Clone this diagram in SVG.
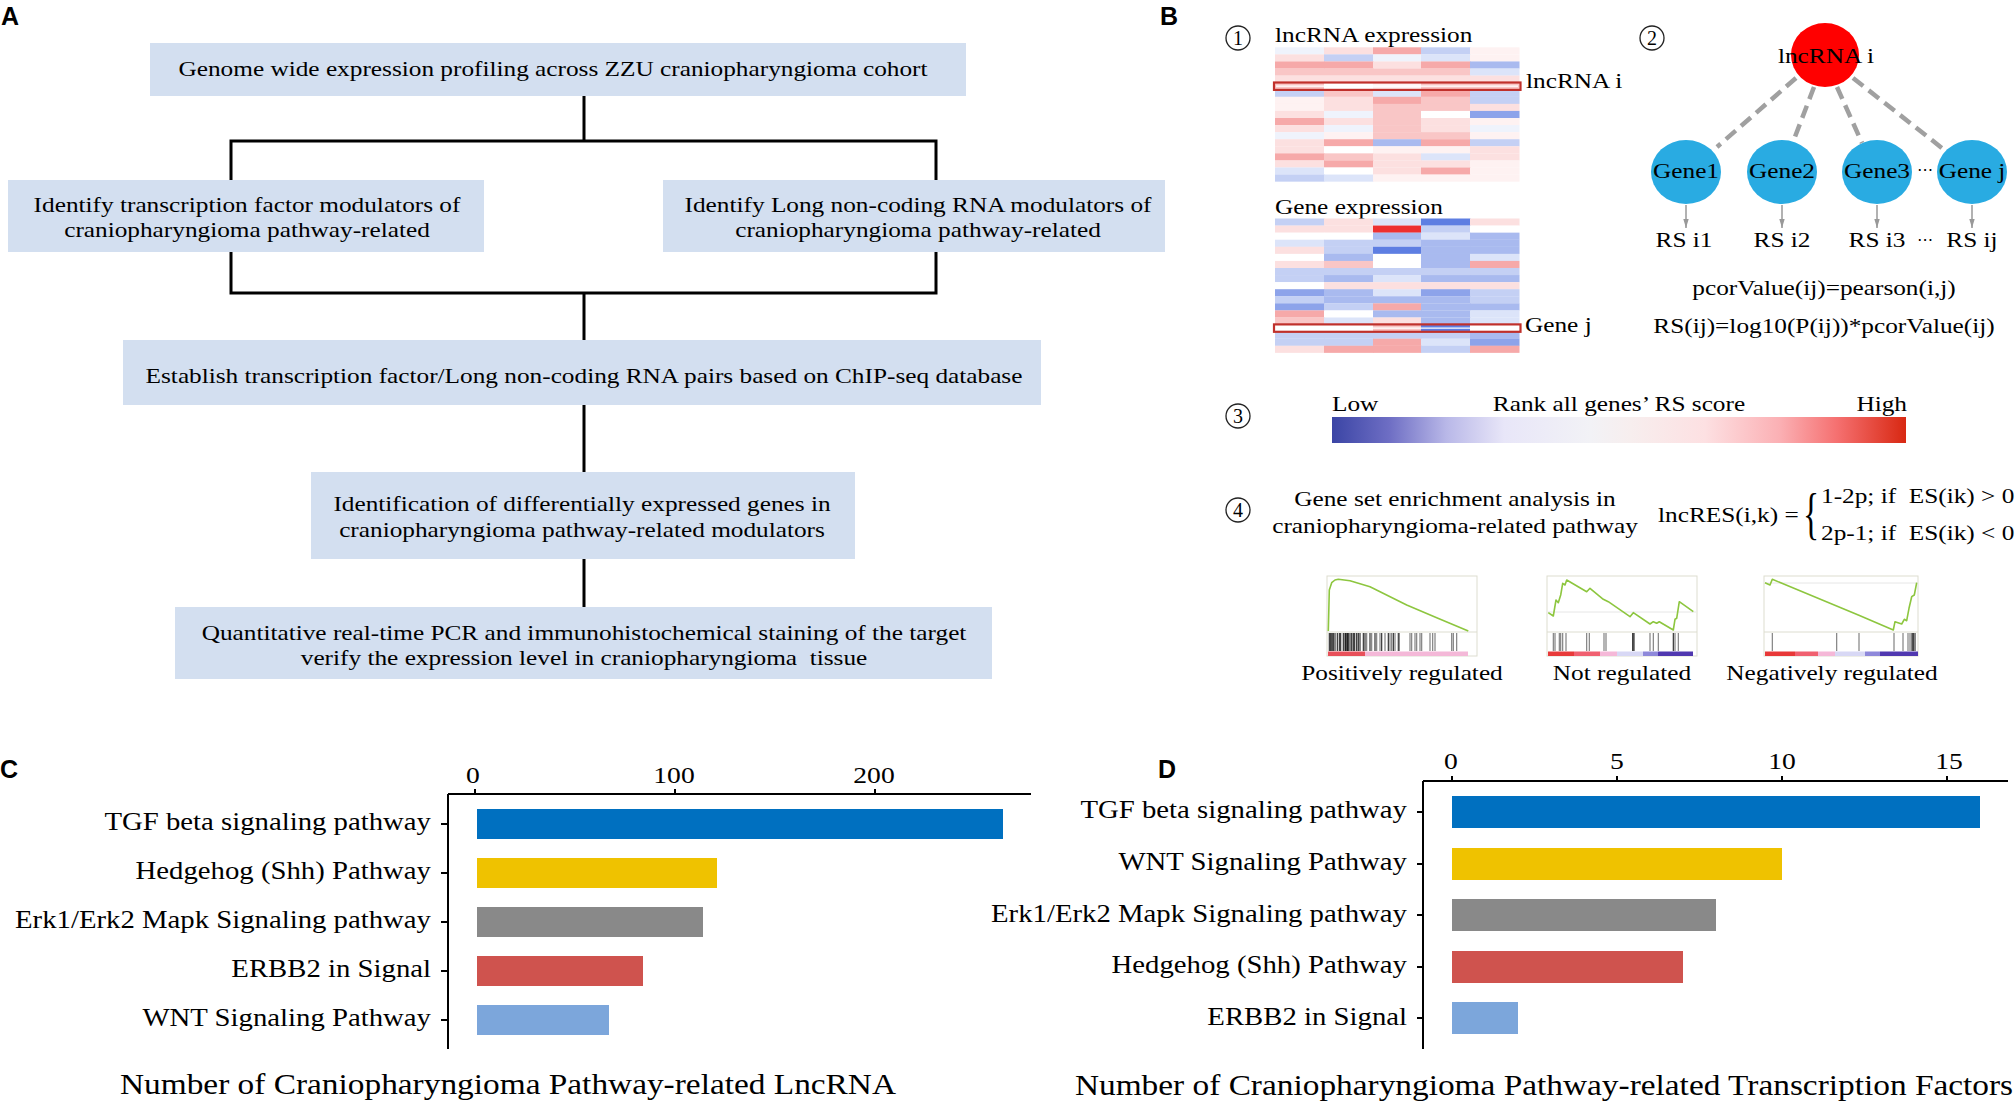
<svg xmlns="http://www.w3.org/2000/svg" width="2016" height="1104" viewBox="0 0 2016 1104">
<defs>
<style>
.t{font-family:"Liberation Serif","Times New Roman",serif;fill:#000}
.f22{font-size:22px}
.f24{font-size:24px}
.f25{font-size:25px}
.f29{font-size:29px}
.m{text-anchor:middle}
.e{text-anchor:end}
.pl{font-family:"Liberation Sans",Arial,sans-serif;font-weight:bold;font-size:25px;fill:#000}
.box{fill:#D3DFF0}
.conn{stroke:#000;stroke-width:3;fill:none;stroke-linecap:square}
.num{fill:none;stroke:#222;stroke-width:1.3}
.dash{stroke:#A0A0A0;stroke-width:4.5;stroke-dasharray:13 7;fill:none}
.rsarr{stroke:#999;stroke-width:1.5;fill:none;marker-end:url(#arr)}
.axis{stroke:#000;stroke-width:2;fill:none}
.ww{fill:#FFFFFF}.w{fill:#FEF2F2}.bw{fill:#EFF3FC}.p1{fill:#FCE0E0}.p2{fill:#F9C6C6}.p3{fill:#F6A9A9}.b1{fill:#DCE4F9}.b2{fill:#C4D0F4}.b3{fill:#A9BAEF}.b4{fill:#8DA3EA}.b5{fill:#5E7EE2}.r{fill:#EE3030}
.hl{fill:none;stroke:#C0302B;stroke-width:2.2}
.gframe{fill:#fff;stroke:#DDDDD0;stroke-width:1}
.curve{fill:none;stroke:#8DC63F;stroke-width:1.6;stroke-linejoin:round}
.bc{stroke:#222;stroke-width:1.1}
.bcg{stroke:#777;stroke-width:1.1}
.zero{stroke:#E6E6E6;stroke-width:1}
</style>
<marker id="arr" markerUnits="userSpaceOnUse" markerWidth="10" markerHeight="8" refX="9" refY="4" orient="auto">
<path d="M0,1.3 L9,4 L0,6.7z" fill="#999"/>
</marker>
<linearGradient id="rs" x1="0" y1="0" x2="1" y2="0">
<stop offset="0" stop-color="#3B45A5"/>
<stop offset="0.1" stop-color="#6E6EC4"/>
<stop offset="0.2" stop-color="#B9B8E8"/>
<stop offset="0.3" stop-color="#E8E6F8"/>
<stop offset="0.45" stop-color="#F2F2F6"/>
<stop offset="0.52" stop-color="#F7EEEE"/>
<stop offset="0.65" stop-color="#FDE0E2"/>
<stop offset="0.78" stop-color="#FBB0B4"/>
<stop offset="0.88" stop-color="#F57070"/>
<stop offset="1" stop-color="#D82812"/>
</linearGradient>
</defs>
<rect width="2016" height="1104" fill="#fff"/>

<!-- Panel labels -->
<text class="pl" x="1" y="25">A</text>
<text class="pl" x="1160" y="25">B</text>
<text class="pl" x="0" y="778">C</text>
<text class="pl" x="1158" y="778">D</text>

<!-- ===== Panel A ===== -->
<g id="a-connectors">
<path class="conn" d="M584 96 V141 M231 141 H936 M231 141 V180 M936 141 V180 M231 252 V293 M936 252 V293 M231 293 H936 M584 293 V340 M584 405 V472 M584 559 V607"/>
</g>
<g id="a-step1">
<rect class="box" x="150" y="43" width="816" height="53"/>
<text class="t f22 m" transform="translate(553 0) scale(1.15 1)" y="76">Genome wide expression profiling across ZZU craniopharyngioma cohort</text>
</g>
<g id="a-step2-tf">
<rect class="box" x="8" y="180" width="476" height="72"/>
<text class="t f22 m" transform="translate(247 0) scale(1.15 1)"><tspan x="0" y="212">Identify transcription factor modulators of</tspan><tspan x="0" y="237">craniopharyngioma pathway-related</tspan></text>
</g>
<g id="a-step2-lnc">
<rect class="box" x="663" y="180" width="502" height="72"/>
<text class="t f22 m" transform="translate(918 0) scale(1.15 1)"><tspan x="0" y="212">Identify Long non-coding RNA modulators of</tspan><tspan x="0" y="237">craniopharyngioma pathway-related</tspan></text>
</g>
<g id="a-step3">
<rect class="box" x="123" y="340" width="918" height="65"/>
<text class="t f22 m" transform="translate(584 0) scale(1.15 1)" y="383">Establish transcription factor/Long non-coding RNA pairs based on ChIP-seq database</text>
</g>
<g id="a-step4">
<rect class="box" x="311" y="472" width="544" height="87"/>
<text class="t f22 m" transform="translate(582 0) scale(1.15 1)"><tspan x="0" y="511">Identification of differentially expressed genes in</tspan><tspan x="0" y="537">craniopharyngioma pathway-related modulators</tspan></text>
</g>
<g id="a-step5">
<rect class="box" x="175" y="607" width="817" height="72"/>
<text class="t f22 m" transform="translate(584 0) scale(1.15 1)" xml:space="preserve"><tspan x="0" y="640">Quantitative real-time PCR and immunohistochemical staining of the target</tspan><tspan x="0" y="665">verify the expression level in craniopharyngioma  tissue</tspan></text>
</g>

<!-- ===== Panel B ===== -->
<!-- step numbers -->
<circle class="num" cx="1238" cy="38" r="12"/>
<text class="t m" font-size="20" x="1238" y="45">1</text>
<circle class="num" cx="1652" cy="38" r="12"/>
<text class="t m" font-size="20" x="1652" y="45">2</text>
<circle class="num" cx="1238" cy="416" r="12"/>
<text class="t m" font-size="20" x="1238" y="423">3</text>
<circle class="num" cx="1238" cy="510" r="12"/>
<text class="t m" font-size="20" x="1238" y="517">4</text>

<text class="t f22" transform="translate(1275 0) scale(1.15 1)" y="42">lncRNA expression</text>
<text class="t f22" transform="translate(1526 0) scale(1.15 1)" y="88">lncRNA i</text>
<text class="t f22" transform="translate(1275 0) scale(1.15 1)" y="214">Gene expression</text>
<text class="t f22" transform="translate(1525 0) scale(1.15 1)" y="332">Gene j</text>

<!-- heatmap 1 -->
<g transform="translate(1275 47.3)">
<rect x="0" y="0" width="49.5" height="7.2" class="bw"/><rect x="49" y="0" width="49.5" height="7.2" class="p1"/><rect x="98" y="0" width="48.5" height="7.2" class="p3"/><rect x="146" y="0" width="49.5" height="7.2" class="b2"/><rect x="195" y="0" width="49.5" height="7.2" class="w"/>
<rect x="0" y="7.07" width="49.5" height="7.2" class="p1"/><rect x="49" y="7.07" width="49.5" height="7.2" class="b2"/><rect x="98" y="7.07" width="48.5" height="7.2" class="bw"/><rect x="146" y="7.07" width="49.5" height="7.2" class="b1"/><rect x="195" y="7.07" width="49.5" height="7.2" class="w"/>
<rect x="0" y="14.14" width="49.5" height="7.2" class="p3"/><rect x="49" y="14.14" width="49.5" height="7.2" class="p3"/><rect x="98" y="14.14" width="48.5" height="7.2" class="p1"/><rect x="146" y="14.14" width="49.5" height="7.2" class="p3"/><rect x="195" y="14.14" width="49.5" height="7.2" class="b3"/>
<rect x="0" y="21.21" width="49.5" height="7.2" class="p2"/><rect x="49" y="21.21" width="49.5" height="7.2" class="p2"/><rect x="98" y="21.21" width="48.5" height="7.2" class="p2"/><rect x="146" y="21.21" width="49.5" height="7.2" class="p2"/><rect x="195" y="21.21" width="49.5" height="7.2" class="b1"/>
<rect x="0" y="28.28" width="49.5" height="7.2" class="p1"/><rect x="49" y="28.28" width="49.5" height="7.2" class="p1"/><rect x="98" y="28.28" width="48.5" height="7.2" class="p1"/><rect x="146" y="28.28" width="49.5" height="7.2" class="p1"/><rect x="195" y="28.28" width="49.5" height="7.2" class="p1"/>
<rect x="0" y="35.35" width="49.5" height="7.2" class="p2"/><rect x="49" y="35.35" width="49.5" height="7.2" class="ww"/><rect x="98" y="35.35" width="48.5" height="7.2" class="w"/><rect x="146" y="35.35" width="49.5" height="7.2" class="p2"/><rect x="195" y="35.35" width="49.5" height="7.2" class="p2"/>
<rect x="0" y="42.42" width="49.5" height="7.2" class="b2"/><rect x="49" y="42.42" width="49.5" height="7.2" class="p2"/><rect x="98" y="42.42" width="48.5" height="7.2" class="b1"/><rect x="146" y="42.42" width="49.5" height="7.2" class="p3"/><rect x="195" y="42.42" width="49.5" height="7.2" class="b2"/>
<rect x="0" y="49.49" width="49.5" height="7.2" class="w"/><rect x="49" y="49.49" width="49.5" height="7.2" class="p1"/><rect x="98" y="49.49" width="48.5" height="7.2" class="p3"/><rect x="146" y="49.49" width="49.5" height="7.2" class="p2"/><rect x="195" y="49.49" width="49.5" height="7.2" class="b2"/>
<rect x="0" y="56.56" width="49.5" height="7.2" class="w"/><rect x="49" y="56.56" width="49.5" height="7.2" class="p1"/><rect x="98" y="56.56" width="48.5" height="7.2" class="p2"/><rect x="146" y="56.56" width="49.5" height="7.2" class="p2"/><rect x="195" y="56.56" width="49.5" height="7.2" class="p1"/>
<rect x="0" y="63.63" width="49.5" height="7.2" class="p1"/><rect x="49" y="63.63" width="49.5" height="7.2" class="bw"/><rect x="98" y="63.63" width="48.5" height="7.2" class="p2"/><rect x="146" y="63.63" width="49.5" height="7.2" class="ww"/><rect x="195" y="63.63" width="49.5" height="7.2" class="b4"/>
<rect x="0" y="70.7" width="49.5" height="7.2" class="p3"/><rect x="49" y="70.7" width="49.5" height="7.2" class="p1"/><rect x="98" y="70.7" width="48.5" height="7.2" class="p2"/><rect x="146" y="70.7" width="49.5" height="7.2" class="p1"/><rect x="195" y="70.7" width="49.5" height="7.2" class="w"/>
<rect x="0" y="77.77" width="49.5" height="7.2" class="p1"/><rect x="49" y="77.77" width="49.5" height="7.2" class="bw"/><rect x="98" y="77.77" width="48.5" height="7.2" class="p2"/><rect x="146" y="77.77" width="49.5" height="7.2" class="p1"/><rect x="195" y="77.77" width="49.5" height="7.2" class="bw"/>
<rect x="0" y="84.84" width="49.5" height="7.2" class="bw"/><rect x="49" y="84.84" width="49.5" height="7.2" class="w"/><rect x="98" y="84.84" width="48.5" height="7.2" class="p2"/><rect x="146" y="84.84" width="49.5" height="7.2" class="p2"/><rect x="195" y="84.84" width="49.5" height="7.2" class="w"/>
<rect x="0" y="91.91" width="49.5" height="7.2" class="p1"/><rect x="49" y="91.91" width="49.5" height="7.2" class="p3"/><rect x="98" y="91.91" width="48.5" height="7.2" class="b3"/><rect x="146" y="91.91" width="49.5" height="7.2" class="p3"/><rect x="195" y="91.91" width="49.5" height="7.2" class="b2"/>
<rect x="0" y="98.98" width="49.5" height="7.2" class="p1"/><rect x="49" y="98.98" width="49.5" height="7.2" class="ww"/><rect x="98" y="98.98" width="48.5" height="7.2" class="w"/><rect x="146" y="98.98" width="49.5" height="7.2" class="w"/><rect x="195" y="98.98" width="49.5" height="7.2" class="p1"/>
<rect x="0" y="106.05" width="49.5" height="7.2" class="p3"/><rect x="49" y="106.05" width="49.5" height="7.2" class="p2"/><rect x="98" y="106.05" width="48.5" height="7.2" class="p1"/><rect x="146" y="106.05" width="49.5" height="7.2" class="b1"/><rect x="195" y="106.05" width="49.5" height="7.2" class="p1"/>
<rect x="0" y="113.12" width="49.5" height="7.2" class="p1"/><rect x="49" y="113.12" width="49.5" height="7.2" class="p3"/><rect x="98" y="113.12" width="48.5" height="7.2" class="p1"/><rect x="146" y="113.12" width="49.5" height="7.2" class="p1"/><rect x="195" y="113.12" width="49.5" height="7.2" class="w"/>
<rect x="0" y="120.19" width="49.5" height="7.2" class="b1"/><rect x="49" y="120.19" width="49.5" height="7.2" class="ww"/><rect x="98" y="120.19" width="48.5" height="7.2" class="p1"/><rect x="146" y="120.19" width="49.5" height="7.2" class="p3"/><rect x="195" y="120.19" width="49.5" height="7.2" class="w"/>
<rect x="0" y="127.26" width="49.5" height="7.1" class="b2"/><rect x="49" y="127.26" width="49.5" height="7.1" class="b1"/><rect x="98" y="127.26" width="48.5" height="7.1" class="w"/><rect x="146" y="127.26" width="49.5" height="7.1" class="w"/><rect x="195" y="127.26" width="49.5" height="7.1" class="w"/>
<rect class="hl" x="-1" y="35.2" width="246.5" height="7.4"/>
<line x1="1" y1="38.9" x2="243" y2="38.9" stroke="#fff" stroke-width="1.2"/>
</g>

<!-- heatmap 2 -->
<g transform="translate(1275 218.5)">
<rect x="0" y="0" width="49.5" height="7.2" class="b2"/><rect x="49" y="0" width="49.5" height="7.2" class="p1"/><rect x="98" y="0" width="48.5" height="7.2" class="b1"/><rect x="146" y="0" width="49.5" height="7.2" class="b5"/><rect x="195" y="0" width="49.5" height="7.2" class="p1"/>
<rect x="0" y="7.07" width="49.5" height="7.2" class="p1"/><rect x="49" y="7.07" width="49.5" height="7.2" class="p1"/><rect x="98" y="7.07" width="48.5" height="7.2" class="r"/><rect x="146" y="7.07" width="49.5" height="7.2" class="b2"/><rect x="195" y="7.07" width="49.5" height="7.2" class="ww"/>
<rect x="0" y="14.14" width="49.5" height="7.2" class="ww"/><rect x="49" y="14.14" width="49.5" height="7.2" class="ww"/><rect x="98" y="14.14" width="48.5" height="7.2" class="b3"/><rect x="146" y="14.14" width="49.5" height="7.2" class="b1"/><rect x="195" y="14.14" width="49.5" height="7.2" class="b3"/>
<rect x="0" y="21.21" width="49.5" height="7.2" class="b1"/><rect x="49" y="21.21" width="49.5" height="7.2" class="b2"/><rect x="98" y="21.21" width="48.5" height="7.2" class="b2"/><rect x="146" y="21.21" width="49.5" height="7.2" class="b3"/><rect x="195" y="21.21" width="49.5" height="7.2" class="b3"/>
<rect x="0" y="28.28" width="49.5" height="7.2" class="p1"/><rect x="49" y="28.28" width="49.5" height="7.2" class="b2"/><rect x="98" y="28.28" width="48.5" height="7.2" class="b5"/><rect x="146" y="28.28" width="49.5" height="7.2" class="b3"/><rect x="195" y="28.28" width="49.5" height="7.2" class="b3"/>
<rect x="0" y="35.35" width="49.5" height="7.2" class="ww"/><rect x="49" y="35.35" width="49.5" height="7.2" class="b3"/><rect x="98" y="35.35" width="48.5" height="7.2" class="ww"/><rect x="146" y="35.35" width="49.5" height="7.2" class="b3"/><rect x="195" y="35.35" width="49.5" height="7.2" class="b1"/>
<rect x="0" y="42.42" width="49.5" height="7.2" class="p1"/><rect x="49" y="42.42" width="49.5" height="7.2" class="p2"/><rect x="98" y="42.42" width="48.5" height="7.2" class="ww"/><rect x="146" y="42.42" width="49.5" height="7.2" class="b3"/><rect x="195" y="42.42" width="49.5" height="7.2" class="p3"/>
<rect x="0" y="49.49" width="49.5" height="7.2" class="b2"/><rect x="49" y="49.49" width="49.5" height="7.2" class="b2"/><rect x="98" y="49.49" width="48.5" height="7.2" class="b2"/><rect x="146" y="49.49" width="49.5" height="7.2" class="b2"/><rect x="195" y="49.49" width="49.5" height="7.2" class="b2"/>
<rect x="0" y="56.56" width="49.5" height="7.2" class="b2"/><rect x="49" y="56.56" width="49.5" height="7.2" class="b3"/><rect x="98" y="56.56" width="48.5" height="7.2" class="b1"/><rect x="146" y="56.56" width="49.5" height="7.2" class="b3"/><rect x="195" y="56.56" width="49.5" height="7.2" class="b3"/>
<rect x="0" y="63.63" width="49.5" height="7.2" class="ww"/><rect x="49" y="63.63" width="49.5" height="7.2" class="p1"/><rect x="98" y="63.63" width="48.5" height="7.2" class="p1"/><rect x="146" y="63.63" width="49.5" height="7.2" class="p1"/><rect x="195" y="63.63" width="49.5" height="7.2" class="p1"/>
<rect x="0" y="70.7" width="49.5" height="7.2" class="b4"/><rect x="49" y="70.7" width="49.5" height="7.2" class="b3"/><rect x="98" y="70.7" width="48.5" height="7.2" class="b1"/><rect x="146" y="70.7" width="49.5" height="7.2" class="b4"/><rect x="195" y="70.7" width="49.5" height="7.2" class="b2"/>
<rect x="0" y="77.77" width="49.5" height="7.2" class="b2"/><rect x="49" y="77.77" width="49.5" height="7.2" class="b3"/><rect x="98" y="77.77" width="48.5" height="7.2" class="b3"/><rect x="146" y="77.77" width="49.5" height="7.2" class="b3"/><rect x="195" y="77.77" width="49.5" height="7.2" class="b2"/>
<rect x="0" y="84.84" width="49.5" height="7.2" class="b4"/><rect x="49" y="84.84" width="49.5" height="7.2" class="b2"/><rect x="98" y="84.84" width="48.5" height="7.2" class="p3"/><rect x="146" y="84.84" width="49.5" height="7.2" class="b3"/><rect x="195" y="84.84" width="49.5" height="7.2" class="b3"/>
<rect x="0" y="91.91" width="49.5" height="7.2" class="p3"/><rect x="49" y="91.91" width="49.5" height="7.2" class="ww"/><rect x="98" y="91.91" width="48.5" height="7.2" class="b3"/><rect x="146" y="91.91" width="49.5" height="7.2" class="b3"/><rect x="195" y="91.91" width="49.5" height="7.2" class="b1"/>
<rect x="0" y="98.98" width="49.5" height="7.2" class="p2"/><rect x="49" y="98.98" width="49.5" height="7.2" class="b1"/><rect x="98" y="98.98" width="48.5" height="7.2" class="p1"/><rect x="146" y="98.98" width="49.5" height="7.2" class="b3"/><rect x="195" y="98.98" width="49.5" height="7.2" class="b1"/>
<rect x="0" y="106.05" width="49.5" height="7.2" class="ww"/><rect x="49" y="106.05" width="49.5" height="7.2" class="ww"/><rect x="98" y="106.05" width="48.5" height="7.2" class="p2"/><rect x="146" y="106.05" width="49.5" height="7.2" class="b5"/><rect x="195" y="106.05" width="49.5" height="7.2" class="ww"/>
<rect x="0" y="113.12" width="49.5" height="7.2" class="b2"/><rect x="49" y="113.12" width="49.5" height="7.2" class="b2"/><rect x="98" y="113.12" width="48.5" height="7.2" class="b2"/><rect x="146" y="113.12" width="49.5" height="7.2" class="b2"/><rect x="195" y="113.12" width="49.5" height="7.2" class="b3"/>
<rect x="0" y="120.19" width="49.5" height="7.2" class="b2"/><rect x="49" y="120.19" width="49.5" height="7.2" class="b2"/><rect x="98" y="120.19" width="48.5" height="7.2" class="p3"/><rect x="146" y="120.19" width="49.5" height="7.2" class="b1"/><rect x="195" y="120.19" width="49.5" height="7.2" class="b4"/>
<rect x="0" y="127.26" width="49.5" height="7.1" class="p1"/><rect x="49" y="127.26" width="49.5" height="7.1" class="p3"/><rect x="98" y="127.26" width="48.5" height="7.1" class="p3"/><rect x="146" y="127.26" width="49.5" height="7.1" class="b2"/><rect x="195" y="127.26" width="49.5" height="7.1" class="p3"/>
<rect class="hl" x="-1" y="105.9" width="246.5" height="7.4"/>
<line x1="1" y1="109.6" x2="243" y2="109.6" stroke="#fff" stroke-width="1.2"/>
</g>

<!-- network connectors -->
<g id="b-connectors">
<path class="dash" d="M1796 78 L1717 147"/>
<path class="dash" d="M1814 87 L1793 142"/>
<path class="dash" d="M1837 87 L1862 143"/>
<path class="dash" d="M1853 78 L1947 152"/>
<path class="rsarr" d="M1686 205 V228"/>
<path class="rsarr" d="M1782 205 V228"/>
<path class="rsarr" d="M1877 205 V228"/>
<path class="rsarr" d="M1972 205 V228"/>
</g>
<g id="node-lncrna">
<ellipse cx="1825" cy="55" rx="34" ry="32" fill="#FF0000"/>
<text class="t f22 m" transform="translate(1826 0) scale(1.15 1)" y="63">lncRNA i</text>
</g>
<g id="node-gene1">
<ellipse cx="1686" cy="172" rx="35" ry="32" fill="#29ABE2"/>
<text class="t f22 m" transform="translate(1686 0) scale(1.15 1)" y="178">Gene1</text>
</g>
<g id="node-gene2">
<ellipse cx="1782" cy="172" rx="35" ry="32" fill="#29ABE2"/>
<text class="t f22 m" transform="translate(1782 0) scale(1.15 1)" y="178">Gene2</text>
</g>
<g id="node-gene3">
<ellipse cx="1877" cy="172" rx="35" ry="32" fill="#29ABE2"/>
<text class="t f22 m" transform="translate(1877 0) scale(1.15 1)" y="178">Gene3</text>
</g>
<g id="node-genej">
<ellipse cx="1972" cy="172" rx="35" ry="32" fill="#29ABE2"/>
<text class="t f22 m" transform="translate(1972 0) scale(1.15 1)" y="178">Gene j</text>
</g>
<text class="m" font-family="DejaVu Sans, sans-serif" font-size="16" x="1925" y="175">⋯</text>
<g id="rs-labels">
<text class="t f22 m" transform="translate(1684 0) scale(1.15 1)" y="247">RS i1</text>
<text class="t f22 m" transform="translate(1782 0) scale(1.15 1)" y="247">RS i2</text>
<text class="t f22 m" transform="translate(1877 0) scale(1.15 1)" y="247">RS i3</text>
<text class="t f22 m" transform="translate(1972 0) scale(1.15 1)" y="247">RS ij</text>
<text class="m" font-family="DejaVu Sans, sans-serif" font-size="16" x="1925" y="245">⋯</text>
</g>
<text class="t f22 m" transform="translate(1824 0) scale(1.15 1)" y="295">pcorValue(ij)=pearson(i,j)</text>
<text class="t f22 m" transform="translate(1824 0) scale(1.15 1)" y="333">RS(ij)=log10(P(ij))*pcorValue(ij)</text>

<!-- step 3 -->
<text class="t f22" transform="translate(1332 0) scale(1.15 1)" y="411">Low</text>
<text class="t f22 m" transform="translate(1619 0) scale(1.15 1)" y="411">Rank all genes’ RS score</text>
<text class="t f22 e" transform="translate(1907 0) scale(1.15 1)" y="411">High</text>
<rect x="1332" y="417" width="574" height="26" fill="url(#rs)"/>

<!-- step 4 -->
<text class="t f22 m" transform="translate(1455 0) scale(1.15 1)"><tspan x="0" y="506">Gene set enrichment analysis in</tspan><tspan x="0" y="533">craniopharyngioma-related pathway</tspan></text>
<text class="t f22" transform="translate(1658 0) scale(1.15 1)" y="522">lncRES(i,k) =</text>
<text class="t" font-size="56" transform="translate(1803 0) scale(0.6 1)" y="533">{</text>
<text class="t f22" transform="translate(1821 0) scale(1.15 1)" y="503" xml:space="preserve">1-2p; if  ES(ik) &gt; 0</text>
<text class="t f22" transform="translate(1821 0) scale(1.15 1)" y="540" xml:space="preserve">2p-1; if  ES(ik) &lt; 0</text>

<!-- GSEA plot 1 -->
<g id="gsea-pos">
<rect class="gframe" x="1327" y="576" width="150" height="80"/>
<line x1="1327" y1="632" x2="1477" y2="632" stroke="#DDDDD0"/>
<polyline class="curve" points="1328.3,631 1329.3,590 1331.7,582.7 1335,580 1338.3,579.3 1350,580.7 1370,586.7 1406.7,605 1436.7,617.7 1468.3,631"/>
<path class="bc" d="M1329.3 633V651M1330.7 633V651M1332 633V651M1333.3 633V651M1335 633V651M1337.3 633V651M1339.3 633V651M1340.7 633V651M1343.3 633V651M1345 633V651M1346 633V651M1347.3 633V651M1348.3 633V651M1350 633V651M1351.7 633V651M1353.3 633V651M1354.7 633V651M1356.7 633V651M1358.3 633V651M1360 633V651M1363.3 633V651M1365 633V651M1370 633V651M1375 633V651M1381.7 633V651M1388.3 633V651M1393.3 633V651M1398.3 633V651"/>
<path class="bcg" d="M1366.7 633V651M1371.7 633V651M1376.7 633V651M1380 633V651M1385 633V651M1390 633V651M1391.7 633V651M1395 633V651M1399.3 633V651M1410 633V651M1411.7 633V651M1415 633V651M1416.7 633V651M1420 633V651M1421.7 633V651M1430 633V651M1432.7 633V651M1435 633V651M1451.7 633V651M1453.3 633V651M1456.7 633V651"/>
<rect x="1328" y="651.5" width="37" height="4.5" fill="#E8505A"/>
<rect x="1365" y="651.5" width="103" height="4.5" fill="#F4B8D8"/>
</g>
<!-- GSEA plot 2 -->
<g id="gsea-not">
<rect class="gframe" x="1547" y="576" width="150" height="80"/>
<line class="zero" x1="1548" y1="612" x2="1696" y2="612"/>
<line x1="1547" y1="632" x2="1697" y2="632" stroke="#DDDDD0"/>
<polyline class="curve" points="1548.3,612.7 1553.3,616 1556,600 1558.3,602.7 1560.7,595 1562.7,583.3 1565,585 1566.7,580 1586.7,591.7 1590,588.3 1603.3,599.3 1608.3,601.7 1630,616.7 1633.3,612.7 1650,624 1653.3,621.7 1656.7,623.3 1659.3,621.7 1673.3,630 1675,619.3 1676.7,618.3 1679.3,601.7 1693.3,611.7"/>
<path class="bcg" d="M1553.3 633V651M1555 633V651M1559.3 633V651M1560.7 633V651M1562.7 633V651M1566 633V651M1586.7 633V651M1589.3 633V651M1604 633V651M1606 633V651M1650 633V651M1653.3 633V651M1658.3 633V651M1675 633V651M1678.3 633V651"/>
<path class="bc" d="M1632.7 633V651M1634 633V651M1673.3 633V651"/>
<rect x="1548" y="651.5" width="26" height="4.5" fill="#E83A3A"/>
<rect x="1574" y="651.5" width="26" height="4.5" fill="#F06070"/>
<rect x="1600" y="651.5" width="17" height="4.5" fill="#F5B8D8"/>
<rect x="1617" y="651.5" width="26" height="4.5" fill="#D8D8F5"/>
<rect x="1643" y="651.5" width="15" height="4.5" fill="#8E88DA"/>
<rect x="1658" y="651.5" width="35" height="4.5" fill="#5038B0"/>
</g>
<!-- GSEA plot 3 -->
<g id="gsea-neg">
<rect class="gframe" x="1764" y="576" width="154" height="80"/>
<line class="zero" x1="1765" y1="583" x2="1917" y2="583"/>
<line x1="1764" y1="632" x2="1918" y2="632" stroke="#DDDDD0"/>
<polyline class="curve" points="1765,582.7 1770,585 1772.3,579.3 1858.3,615 1893.3,630 1895,621.7 1901.7,624 1904.3,619.3 1906.7,620.7 1909,608.3 1911.7,596.7 1914.3,595 1916.7,582.7"/>
<path class="bcg" d="M1772.3 633V651M1836.7 633V651M1859 633V651M1894 633V651M1903 633V651M1908 633V651M1910 633V651"/>
<path class="bc" d="M1912 633V651M1913.3 633V651M1915 633V651"/>
<rect x="1765" y="651.5" width="30" height="4.5" fill="#E83838"/>
<rect x="1795" y="651.5" width="23" height="4.5" fill="#F06070"/>
<rect x="1818" y="651.5" width="17" height="4.5" fill="#F5B8D8"/>
<rect x="1835" y="651.5" width="30" height="4.5" fill="#D8D8F5"/>
<rect x="1865" y="651.5" width="15" height="4.5" fill="#8E88DA"/>
<rect x="1880" y="651.5" width="38" height="4.5" fill="#5038B0"/>
</g>
<text class="t f22 m" transform="translate(1402 0) scale(1.15 1)" y="680">Positively regulated</text>
<text class="t f22 m" transform="translate(1622 0) scale(1.15 1)" y="680">Not regulated</text>
<text class="t f22 m" transform="translate(1832 0) scale(1.15 1)" y="680">Negatively regulated</text>

<!-- ===== Panel C ===== -->
<g id="chart-c">
<path class="axis" d="M448 794 H1031 M448 794 V1049 M475 789 V794 M675 789 V794 M875 789 V794 M441 824 H448 M441 873 H448 M441 922 H448 M441 971 H448 M441 1020 H448"/>
<text class="t f24 m" transform="translate(473 0) scale(1.15 1)" y="783">0</text>
<text class="t f24 m" transform="translate(674 0) scale(1.15 1)" y="783">100</text>
<text class="t f24 m" transform="translate(874 0) scale(1.15 1)" y="783">200</text>
<rect x="477" y="809" width="526" height="30" fill="#0070C0"/>
<rect x="477" y="858" width="240" height="30" fill="#EFC200"/>
<rect x="477" y="907" width="226" height="30" fill="#898989"/>
<rect x="477" y="956" width="166" height="30" fill="#CF534E"/>
<rect x="477" y="1005" width="132" height="30" fill="#7CA6DB"/>
<text class="t f25 e" transform="translate(431 0) scale(1.15 1)" y="830">TGF beta signaling pathway</text>
<text class="t f25 e" transform="translate(431 0) scale(1.15 1)" y="879">Hedgehog (Shh) Pathway</text>
<text class="t f25 e" transform="translate(431 0) scale(1.15 1)" y="928">Erk1/Erk2 Mapk Signaling pathway</text>
<text class="t f25 e" transform="translate(431 0) scale(1.15 1)" y="977">ERBB2 in Signal</text>
<text class="t f25 e" transform="translate(431 0) scale(1.15 1)" y="1026">WNT Signaling Pathway</text>
<text class="t f29 m" transform="translate(508 0) scale(1.15 1)" y="1094">Number of Craniopharyngioma Pathway-related LncRNA</text>
</g>

<!-- ===== Panel D ===== -->
<g id="chart-d">
<path class="axis" d="M1423 781 H2008 M1423 781 V1049 M1452 776 V781 M1617 776 V781 M1782 776 V781 M1947 776 V781 M1417 812 H1423 M1417 864 H1423 M1417 915 H1423 M1417 967 H1423 M1417 1018 H1423"/>
<text class="t f24 m" transform="translate(1451 0) scale(1.15 1)" y="769">0</text>
<text class="t f24 m" transform="translate(1617 0) scale(1.15 1)" y="769">5</text>
<text class="t f24 m" transform="translate(1782 0) scale(1.15 1)" y="769">10</text>
<text class="t f24 m" transform="translate(1949 0) scale(1.15 1)" y="769">15</text>
<rect x="1452" y="796" width="528" height="32" fill="#0070C0"/>
<rect x="1452" y="848" width="330" height="32" fill="#EFC200"/>
<rect x="1452" y="899" width="264" height="32" fill="#898989"/>
<rect x="1452" y="951" width="231" height="32" fill="#CF534E"/>
<rect x="1452" y="1002" width="66" height="32" fill="#7CA6DB"/>
<text class="t f25 e" transform="translate(1407 0) scale(1.15 1)" y="818">TGF beta signaling pathway</text>
<text class="t f25 e" transform="translate(1407 0) scale(1.15 1)" y="870">WNT Signaling Pathway</text>
<text class="t f25 e" transform="translate(1407 0) scale(1.15 1)" y="922">Erk1/Erk2 Mapk Signaling pathway</text>
<text class="t f25 e" transform="translate(1407 0) scale(1.15 1)" y="973">Hedgehog (Shh) Pathway</text>
<text class="t f25 e" transform="translate(1407 0) scale(1.15 1)" y="1025">ERBB2 in Signal</text>
<text class="t f29 m" transform="translate(1544 0) scale(1.15 1)" y="1095">Number of Craniopharyngioma Pathway-related Transcription Factors</text>
</g>
</svg>
